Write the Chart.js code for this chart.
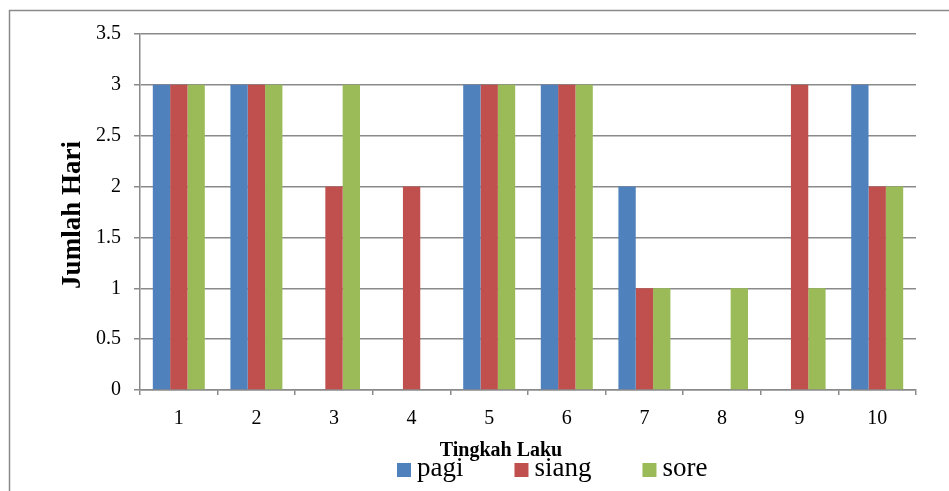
<!DOCTYPE html>
<html>
<head>
<meta charset="utf-8">
<script src="https://cdn.jsdelivr.net/npm/chart.js@4/dist/chart.umd.min.js"></script>
<style>
  html, body { margin: 0; padding: 0; background: #ffffff; }
  #wrap { width: 949px; height: 491px; position: relative; }
</style>
</head>
<body>
<div id="wrap"><canvas id="c" width="949" height="491"></canvas></div>
<script>
// Behaviour categories and number of days observed per time of day
const categories = ['1', '2', '3', '4', '5', '6', '7', '8', '9', '10'];
const pagi  = [3, 3, 0, 0, 3, 3, 2, 0, 0, 3];
const siang = [3, 3, 2, 2, 3, 3, 1, 0, 3, 2];
const sore  = [3, 3, 3, 0, 3, 3, 1, 1, 1, 2];
const seriesNames = ['pagi', 'siang', 'sore'];
const yTicks = [0, 0.5, 1, 1.5, 2, 2.5, 3, 3.5];
const xTitle = 'Tingkah Laku';
const yTitle = 'Jumlah Hari';

const colors = ['#4F81BD', '#C0504D', '#9BBB59'];
const gridGrey = '#8a8a8a';
const serif = '"Liberation Serif", "Times New Roman", serif';

// Frame, axis titles and legend drawn on the canvas
const decorations = {
  id: 'decorations',
  beforeDraw(chart) {
    const ctx = chart.ctx;
    ctx.save();
    ctx.fillStyle = '#ffffff';
    ctx.fillRect(0, 0, chart.width, chart.height);
    ctx.strokeStyle = gridGrey;
    ctx.lineWidth = 1.5;
    ctx.strokeRect(9.5, 10.5, chart.width + 20, chart.height + 20);
    ctx.restore();
  },
  afterDraw(chart) {
    const ctx = chart.ctx;
    const area = chart.chartArea;
    ctx.save();
    ctx.fillStyle = '#000000';

    // y-axis title, rotated, centred on the plot height
    ctx.save();
    ctx.translate(73, (area.top + area.bottom) / 2 + 3);
    ctx.rotate(-Math.PI / 2);
    ctx.font = 'bold 27px ' + serif;
    ctx.textAlign = 'center';
    ctx.textBaseline = 'middle';
    ctx.fillText(yTitle, 0, 0);
    ctx.restore();

    // x-axis title
    ctx.font = 'bold 20px ' + serif;
    ctx.textAlign = 'center';
    ctx.textBaseline = 'alphabetic';
    ctx.fillText(xTitle, 501, 456);

    // legend
    ctx.font = '27px ' + serif;
    ctx.textAlign = 'left';
    let x = 397;
    const boxSize = 14, boxTop = 463, textGap = 6, itemGap = 51, baseline = 476;
    chart.data.datasets.forEach((ds) => {
      ctx.fillStyle = ds.backgroundColor;
      ctx.fillRect(x, boxTop, boxSize, boxSize);
      ctx.fillStyle = '#000000';
      const tx = x + boxSize + textGap;
      ctx.fillText(ds.label, tx, baseline);
      x = tx + ctx.measureText(ds.label).width + itemGap;
    });
    ctx.restore();
  }
};

new Chart(document.getElementById('c'), {
  type: 'bar',
  data: {
    labels: categories,
    datasets: [
      { label: seriesNames[0], data: pagi,  backgroundColor: colors[0] },
      { label: seriesNames[1], data: siang, backgroundColor: colors[1] },
      { label: seriesNames[2], data: sore,  backgroundColor: colors[2] }
    ]
  },
  options: {
    responsive: false,
    animation: false,
    devicePixelRatio: 1,
    layout: { padding: { top: 34, right: 33, bottom: 0, left: 0 } },
    datasets: {
      bar: { categoryPercentage: 0.67, barPercentage: 1.0, borderWidth: 0 }
    },
    plugins: {
      legend: { display: false },
      tooltip: { enabled: false }
    },
    scales: {
      x: {
        afterFit(scale) { scale.height = 101; },
        grid: {
          display: true,
          drawOnChartArea: false,
          drawTicks: true,
          tickLength: 5,
          offset: true,
          color: gridGrey,
          lineWidth: 1.5
        },
        border: { display: true, color: gridGrey, width: 1.5 },
        ticks: {
          color: '#000000',
          font: { family: serif, size: 20 },
          padding: 12,
          maxRotation: 0
        }
      },
      y: {
        min: 0,
        max: 3.5,
        afterFit(scale) { scale.width = 140; },
        afterBuildTicks(scale) { scale.ticks = yTicks.map(v => ({ value: v })); },
        grid: {
          color: gridGrey,
          lineWidth: 1.5,
          drawTicks: true,
          tickLength: 6
        },
        border: { display: true, color: gridGrey, width: 1.5 },
        ticks: {
          color: '#000000',
          font: { family: serif, size: 20 },
          padding: 13,
          callback: (v) => String(v)
        }
      }
    }
  },
  plugins: [decorations]
});
</script>
</body>
</html>
